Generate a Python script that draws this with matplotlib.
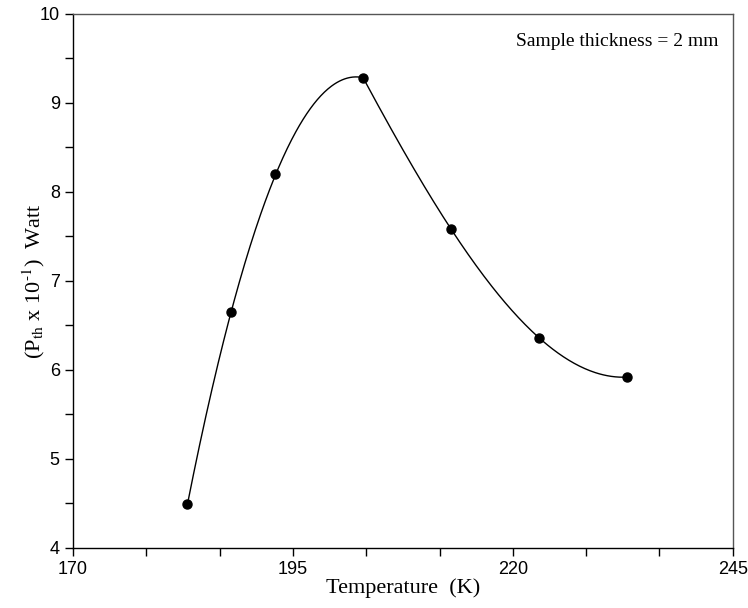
import matplotlib
matplotlib.use('Agg')
import matplotlib.pyplot as plt
import numpy as np

# data
temp = np.array([183, 188, 193, 203, 213, 223, 233])
pth = np.array([4.49, 6.65, 8.20, 9.28, 7.58, 6.36, 5.92])
peak = 3  # index of maximum, curve has a corner here
xticks = [170, 195, 220, 245]
yticks = [4, 5, 6, 7, 8, 9, 10]

plt.rcParams['mathtext.fontset'] = 'stix'
serif = 'Liberation Serif'
sans = 'Liberation Sans'

fig = plt.figure(figsize=(7.48, 6.08), dpi=100)
ax = fig.add_axes([0.0976, 0.0987, 0.882, 0.8783])

# left side: cubic through the rising points, flat at the peak
xl, yl = temp[:peak + 1], pth[:peak + 1]
x0 = xl[-1]
A = np.array([[x**3, x**2, x, 1] for x in xl - x0] + [[0, 0, 1, 0]], float)
b = np.append(yl, 0.0)
cl = np.linalg.lstsq(A, b, rcond=None)[0]
xx = np.linspace(xl[0], xl[-1], 200)
ax.plot(xx, np.polyval(cl, xx - x0), color='black', lw=1.0)

# right side: cubic through the falling points
xr, yr = temp[peak:], pth[peak:]
cr = np.polyfit(xr - x0, yr, 3)
xx = np.linspace(xr[0], xr[-1], 200)
ax.plot(xx, np.polyval(cr, xx - x0), color='black', lw=1.0)

ax.plot(temp, pth, 'o', color='black', ms=6.5)

ax.set_xlim(170, 245)
ax.set_ylim(4, 10)
ax.set_xticks(xticks)
ax.set_xticks(np.linspace(xticks[0], xticks[-1], 3 * (len(xticks) - 1) + 1), minor=True)
ax.set_yticks(yticks)
ax.set_yticks(np.arange(yticks[0], yticks[-1] + 0.01, 0.5), minor=True)
ax.tick_params(which='both', direction='out', length=6, width=1, top=False, right=False)
for lab in ax.get_xticklabels() + ax.get_yticklabels():
    lab.set_fontfamily(sans)
    lab.set_fontsize(13)

for s in ax.spines.values():
    s.set_linewidth(1)
ax.spines['top'].set_color('#555555')
ax.spines['right'].set_color('#555555')

ax.set_xlabel('Temperature  (K)', family=serif, fontsize=16, labelpad=0)
ax.set_ylabel(r'(P$_{\mathrm{th}}$ x 10$^{\text{-}1}$)  Watt', family=serif, fontsize=16)
ax.yaxis.set_label_coords(-0.04, 0.5)

ax.text(0.978, 0.965, 'Sample thickness = 2 mm', transform=ax.transAxes,
        ha='right', va='top', family=serif, fontsize=14)

fig.savefig('out.png', dpi=100)
